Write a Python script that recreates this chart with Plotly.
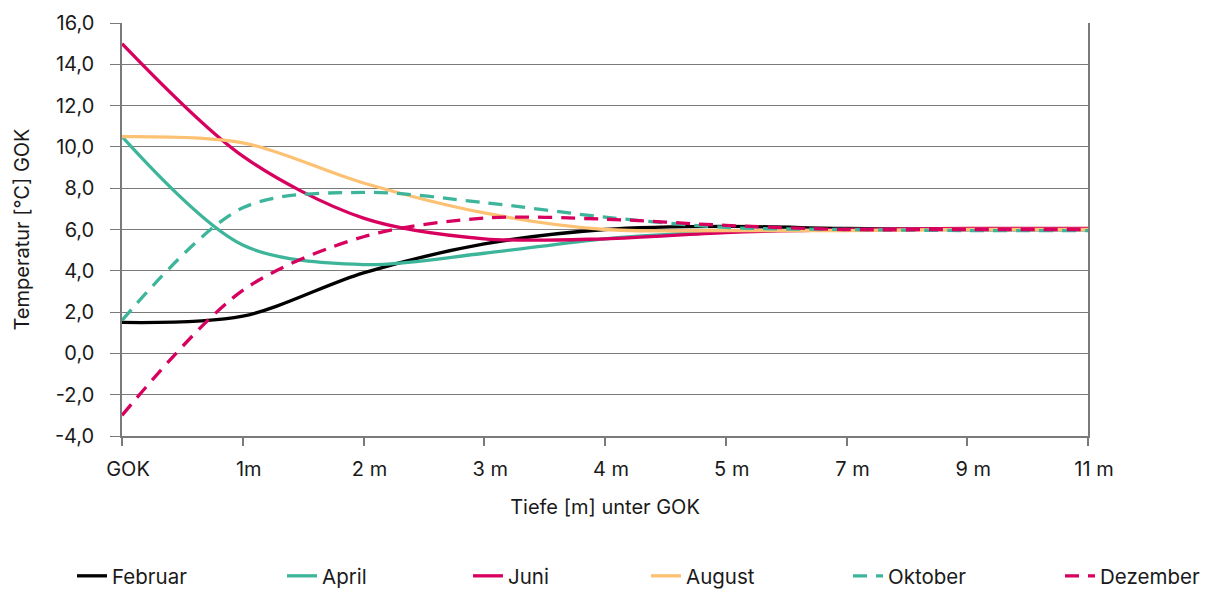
import plotly.graph_objects as go

categories = ["GOK", "1m", "2 m", "3 m", "4 m", "5 m", "7 m", "9 m", "11 m"]
februar = [1.5, 1.8, 3.9, 5.3, 6.0, 6.15, 6.05, 6.0, 6.0]
april = [10.5, 5.25, 4.3, 4.85, 5.55, 5.9, 6.0, 6.0, 6.0]
juni = [15.0, 9.55, 6.55, 5.55, 5.55, 5.85, 6.0, 6.05, 6.05]
august = [10.5, 10.2, 8.25, 6.8, 6.0, 5.95, 5.95, 6.0, 6.0]
oktober = [1.6, 7.05, 7.8, 7.3, 6.6, 6.1, 6.0, 5.95, 5.95]
dezember = [-3.0, 3.05, 5.65, 6.55, 6.5, 6.2, 6.0, 6.0, 6.0]

y_ticks = [-4, -2, 0, 2, 4, 6, 8, 10, 12, 14, 16]
y_tick_labels = ["-4,0", "-2,0", "0,0", "2,0", "4,0", "6,0", "8,0", "10,0", "12,0", "14,0", "16,0"]

series = [
    ("Februar", februar, "#000000", "solid"),
    ("April", april, "#3db59a", "solid"),
    ("Juni", juni, "#d7005e", "solid"),
    ("August", august, "#fdc173", "solid"),
    ("Oktober", oktober, "#3db59a", "14px,9px"),
    ("Dezember", dezember, "#d7005e", "14px,9px"),
]

# page layout (browser body has an 8px margin)
L, R, T, B = 114, 123, 15, 156
W, H = 1203, 584
plot_w = W - L - R
plot_h = H - T - B

legend_text_x = [112, 322, 508, 686, 888, 1100]  # page x where legend text starts
legend_y = -(576 - (8 + T + plot_h)) / plot_h

font_family = "Inter, Roboto, sans-serif"
fs = 20
fig = go.Figure()
layout_legends = {}
for i, (name, vals, color, dash) in enumerate(series):
    key = "legend" if i == 0 else f"legend{i + 1}"
    fig.add_trace(go.Scatter(
        x=categories, y=vals, name=name, mode="lines", legend=key, showlegend=True,
        line=dict(color=color, width=3.3, dash=dash, shape="spline", smoothing=0.9),
    ))
    lx = (legend_text_x[i] - 40 - 8 - L) / plot_w
    layout_legends[key] = dict(
        orientation="h", x=lx, xanchor="left", y=legend_y, yanchor="middle",
        font=dict(size=20.5, color="#1a1a1a", family=font_family), bgcolor="rgba(0,0,0,0)",
    )

fig.update_layout(
    width=W, height=H, showlegend=True,
    paper_bgcolor="white", plot_bgcolor="white",
    margin=dict(l=L, r=R, t=T, b=B, autoexpand=False),
    font=dict(family=font_family, size=fs, color="#1a1a1a"),
    xaxis=dict(
        type="category", range=[0, 8],
        showgrid=False, showline=True, linecolor="#7a7a7a", linewidth=1.5,
        ticks="outside", ticklen=8, tickcolor="#7a7a7a", tickwidth=1.5,
        ticklabelstandoff=6, ticklabelshift=6,
        tickfont=dict(size=fs),
        title=dict(text="Tiefe [m] unter GOK", font=dict(size=fs), standoff=20),
    ),
    yaxis=dict(
        range=[-4, 16], tickvals=y_ticks, ticktext=y_tick_labels,
        showgrid=True, gridcolor="#7a7a7a", gridwidth=1.3,
        showline=True, linecolor="#7a7a7a", linewidth=1.5, mirror=True,
        ticks="outside", ticklen=10, tickcolor="#7a7a7a", tickwidth=1.3,
        ticklabelstandoff=12,
        zeroline=False, tickfont=dict(size=fs),
        title=dict(text="Temperatur [°C] GOK", font=dict(size=fs), standoff=20),
    ),
    **layout_legends,
)

fig.write_html("out.html")
